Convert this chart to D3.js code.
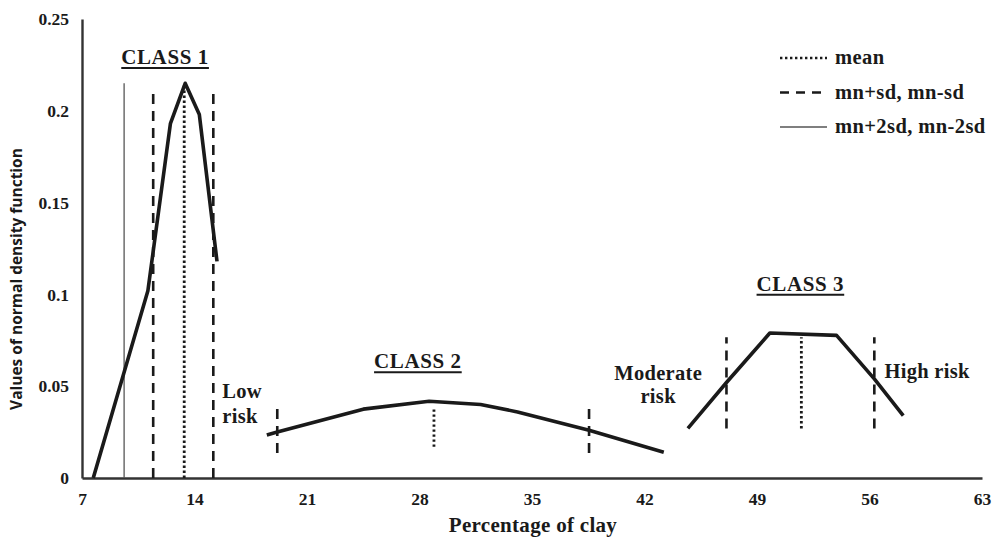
<!DOCTYPE html>
<html>
<head>
<meta charset="utf-8">
<script src="https://cdnjs.cloudflare.com/ajax/libs/d3/7.8.5/d3.min.js"></script>
<style>
  html, body { margin: 0; padding: 0; background: #fff; }
  svg { display: block; }
</style>
</head>
<body>
<svg id="chart"></svg>
<script>
// Density curves
const class1X = [7.7, 11.1, 12.5, 13.42, 14.3, 15.4];
const class1Y = [0.0, 0.102, 0.193, 0.215, 0.198, 0.118];
const class2X = [18.5, 19.15, 24.5, 28.6, 31.8, 34.1, 38.55, 43.2];
const class2Y = [0.0234, 0.025, 0.0375, 0.0418, 0.040, 0.036, 0.026, 0.014];
const class3X = [44.7, 47.1, 49.8, 53.95, 56.3, 58.1];
const class3Y = [0.027, 0.052, 0.079, 0.0777, 0.054, 0.034];

// Statistic markers: [x, yLow, yHigh, kind]
const statLines = [
    [9.62, 0, 0.215, 'sd2'],
    [11.43, 0, 0.213, 'sd'],
    [13.36, 0, 0.215, 'mean'],
    [15.17, 0, 0.213, 'sd'],
    [19.15, 0.0136, 0.038, 'sd'],
    [28.9, 0.017, 0.038, 'mean'],
    [38.55, 0.0136, 0.038, 'sd'],
    [47.1, 0.027, 0.0766, 'sd'],
    [51.76, 0.027, 0.0766, 'mean'],
    [56.3, 0.027, 0.0766, 'sd']
];

const xTicks = [7, 14, 21, 28, 35, 42, 49, 56, 63];
const yTicks = [0, 0.05, 0.1, 0.15, 0.2, 0.25];
const yTickLabels = ['0', '0.05', '0.1', '0.15', '0.2', '0.25'];

const classLabels = [['CLASS 1', 12.17, 0.2255], ['CLASS 2', 27.9, 0.0598], ['CLASS 3', 51.7, 0.102]];
const riskLabels = [
    ['Low', 15.73, 0.0435, 'start'], ['risk', 15.73, 0.030, 'start'],
    ['Moderate', 42.85, 0.0533, 'middle'], ['risk', 42.85, 0.0408, 'middle'],
    ['High risk', 56.93, 0.0543, 'start']
];
const legendItems = [['mean', 'mean'], ['sd', 'mn+sd, mn-sd'], ['sd2', 'mn+2sd, mn-2sd']];

const W = 993, H = 539;
const margin = { top: 19, right: 11, bottom: 61, left: 82 };
const serif = '"Liberation Serif", "Times New Roman", serif';
const ink = '#1a1a1a';

const svg = d3.select('#chart').attr('width', W).attr('height', H);

const x = d3.scaleLinear().domain([7, 63]).range([margin.left, W - margin.right]);
const y = d3.scaleLinear().domain([0, 0.25]).range([H - margin.bottom, margin.top]);

const styles = {
    mean: { w: 2.8, dash: '2.4,2.6', color: ink },
    sd: { w: 2.6, dash: '10,7', color: ink },
    sd2: { w: 1.3, dash: null, color: '#555' }
};

// Axes
const xAxis = svg.append('g').attr('transform', `translate(0,${y(0)})`)
    .call(d3.axisBottom(x).tickValues(xTicks).tickSize(0).tickPadding(15).tickFormat(d3.format('d')));
const yAxis = svg.append('g').attr('transform', `translate(${x(7)},0)`)
    .call(d3.axisLeft(y).tickValues(yTicks).tickSize(0).tickPadding(13).tickFormat((d, i) => yTickLabels[i]));
[xAxis, yAxis].forEach(g => {
    g.select('.domain').attr('stroke', '#333').attr('stroke-width', 2.4);
    g.selectAll('text').attr('font-family', serif).attr('font-weight', 'bold')
        .attr('font-size', '17.5px').attr('fill', ink);
});

// Stat lines
svg.append('g').selectAll('line').data(statLines).join('line')
    .attr('x1', d => x(d[0])).attr('x2', d => x(d[0]))
    .attr('y1', d => y(d[1])).attr('y2', d => y(d[2]))
    .attr('stroke', d => styles[d[3]].color)
    .attr('stroke-width', d => styles[d[3]].w)
    .attr('stroke-dasharray', d => styles[d[3]].dash);

// Curves
const line = d3.line().x(d => x(d[0])).y(d => y(d[1]));
[[class1X, class1Y], [class2X, class2Y], [class3X, class3Y]].forEach(([xs, ys]) => {
    svg.append('path').datum(xs.map((v, i) => [v, ys[i]]))
        .attr('d', line).attr('fill', 'none').attr('stroke', ink)
        .attr('stroke-width', 3.6).attr('stroke-linejoin', 'round');
});

// Class titles, underlined
classLabels.forEach(([t, cx, cy]) => {
    const txt = svg.append('text').attr('x', x(cx)).attr('y', y(cy))
        .attr('text-anchor', 'middle').attr('font-family', serif).attr('font-weight', 'bold')
        .attr('font-size', '21px').attr('letter-spacing', '0.6px').attr('fill', ink).text(t);
    const bb = txt.node().getBBox();
    svg.append('line').attr('x1', bb.x).attr('x2', bb.x + bb.width)
        .attr('y1', y(cy) + 4).attr('y2', y(cy) + 4).attr('stroke', ink).attr('stroke-width', 2);
});

// Risk annotations
svg.append('g').selectAll('text').data(riskLabels).join('text')
    .attr('x', d => x(d[1])).attr('y', d => y(d[2])).attr('text-anchor', d => d[3])
    .attr('font-family', serif).attr('font-weight', 'bold').attr('font-size', '20.5px')
    .attr('letter-spacing', '0.3px').attr('fill', ink).text(d => d[0]);

// Axis titles
svg.append('text').attr('x', 533).attr('y', 532).attr('text-anchor', 'middle')
    .attr('font-family', serif).attr('font-weight', 'bold').attr('font-size', '21px')
    .attr('letter-spacing', '0.3px').attr('fill', ink).text('Percentage of clay');
svg.append('text').attr('transform', 'translate(22,279) rotate(-90)').attr('text-anchor', 'middle')
    .attr('font-family', '"Open Sans", sans-serif').attr('font-weight', 'bold').attr('font-size', '15.5px')
    .attr('fill', ink).text('Values of normal density function');

// Legend
const lg = svg.append('g').attr('transform', 'translate(780,58)');
legendItems.forEach(([k, label], i) => {
    const yy = i * 34.5;
    const s = styles[k];
    lg.append('line').attr('x1', 0).attr('x2', 47).attr('y1', yy).attr('y2', yy)
        .attr('stroke', s.color).attr('stroke-width', k === 'sd2' ? 1.4 : 2.6)
        .attr('stroke-dasharray', k === 'sd' ? '9,7' : s.dash);
    lg.append('text').attr('x', 55).attr('y', yy + 6)
        .attr('font-family', serif).attr('font-weight', 'bold').attr('font-size', '20.5px')
        .attr('letter-spacing', '0.4px').attr('fill', ink).text(label);
});
</script>
</body>
</html>
